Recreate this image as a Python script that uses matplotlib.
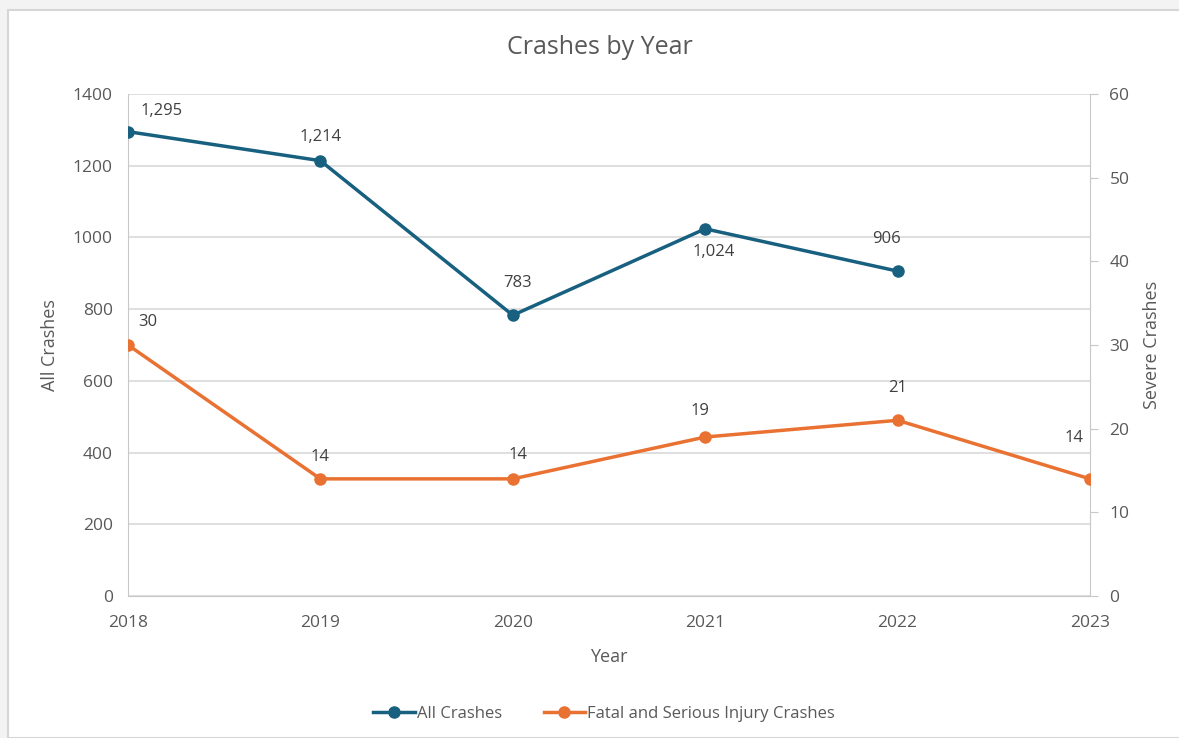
import matplotlib.pyplot as plt
from matplotlib.patches import Rectangle
from matplotlib.lines import Line2D

years = ["2018", "2019", "2020", "2021", "2022", "2023"]
all_crashes = [1295, 1214, 783, 1024, 906]
severe = [30, 14, 14, 19, 21, 14]
# label placement: offsets in points (dx, dy)
all_offsets = [(24, 15), (0, 17), (3.5, 23), (6, -16.5), (-8, 23)]
sev_offsets = [(14, 16.5), (0, 16), (3.5, 17), (-4, 19), (0, 23), (-11.5, 29.5)]

blue = "#18607F"
orange = "#E97132"
txt = "#595959"
grid = "#D9D9D9"

plt.rcParams["font.family"] = ["Open Sans", "DejaVu Sans"]

fig = plt.figure(figsize=(11.79, 7.38), dpi=100, facecolor="#F3F3F3")
frame = Rectangle((8 / 1179, 0), 1.0, 1 - 10 / 738, transform=fig.transFigure,
                  facecolor="white", edgecolor="#D6D6D6", linewidth=1.5, zorder=-10)
fig.add_artist(frame)

ax = fig.add_axes([128 / 1179, 1 - 596 / 738, (1090 - 128) / 1179, (596 - 94) / 738])
ax.set_facecolor("none")
ax2 = ax.twinx()

x = list(range(len(years)))
ax.plot(x[:len(all_crashes)], all_crashes, color=blue, lw=2.5, marker="o", ms=8, zorder=3)
ax2.plot(x, severe, color=orange, lw=2.5, marker="o", ms=8, zorder=3)

for xi, v, off in zip(x, all_crashes, all_offsets):
    ax.annotate(f"{v:,}", (xi, v), xytext=off, textcoords="offset points",
                ha="center", va="center", fontsize=12, color="#404040")
for xi, v, off in zip(x, severe, sev_offsets):
    ax2.annotate(f"{v}", (xi, v), xytext=off, textcoords="offset points",
                 ha="center", va="center", fontsize=12, color="#404040")

ax.set_xlim(0, len(years) - 1)
ax.set_ylim(0, 1400)
ax.set_yticks(range(0, 1401, 200))
ax2.set_ylim(0, 60)
ax2.set_yticks(range(0, 61, 10))
ax.set_xticks(x)
ax.set_xticklabels(years)
ax.yaxis.grid(True, color=grid, lw=1.2)
ax.set_axisbelow(True)

for a in (ax, ax2):
    for s in a.spines.values():
        s.set_visible(False)
    a.tick_params(colors=txt, labelsize=12.5)
ax.spines["left"].set_visible(True)
ax.spines["left"].set_color("#C8C8C8")
ax.spines["bottom"].set_visible(True)
ax.spines["bottom"].set_color("#C8C8C8")
ax2.spines["right"].set_visible(True)
ax2.spines["right"].set_color("#C8C8C8")
ax.tick_params(axis="y", length=0, pad=11)
ax.tick_params(axis="x", length=0, pad=14)
ax2.tick_params(axis="y", length=6, color="#C8C8C8", pad=8)

ax.set_xlabel("Year", fontsize=13, color=txt, labelpad=12)
ax.set_ylabel("All Crashes", fontsize=13, color=txt, labelpad=10)
ax2.set_ylabel("Severe Crashes", fontsize=13, color=txt, labelpad=10)
fig.text(600 / 1179, 1 - 47 / 738, "Crashes by Year", ha="center", va="center", fontsize=18, color=txt)

handles = [Line2D([], [], color=blue, lw=2.5, marker="o", ms=8),
           Line2D([], [], color=orange, lw=2.5, marker="o", ms=8)]
fig.legend(handles, ["All Crashes", "Fatal and Serious Injury Crashes"], loc="center",
           bbox_to_anchor=(604 / 1179, 1 - 714 / 738), ncol=2, frameon=False, fontsize=12,
           labelcolor=txt, handlelength=2.5, handletextpad=0.1, columnspacing=2.5)

fig.savefig("out.png", dpi=100, facecolor=fig.get_facecolor())
